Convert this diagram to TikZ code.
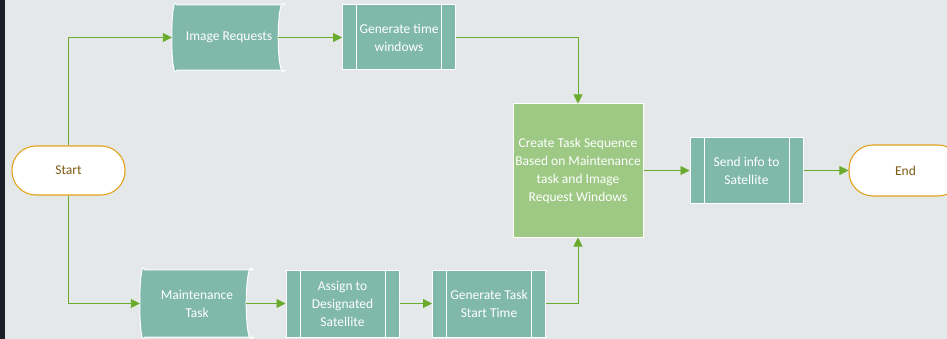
\documentclass[tikz,border=0pt]{standalone}
\usepackage{fontspec}
\setmainfont{Carlito}
\usetikzlibrary{arrows.meta}
\definecolor{bgc}{HTML}{E4E8E8}
\definecolor{tealc}{HTML}{80B9AA}
\definecolor{lgreen}{HTML}{9DC984}
\definecolor{arrowg}{HTML}{6AAB2E}
\definecolor{orng}{HTML}{E2A31C}
\definecolor{brownc}{HTML}{7D5A12}
\definecolor{darkc}{HTML}{1B2028}
\newcommand{\storeddata}[1]{%
  \filldraw[fill=tealc, draw=white, line width=1pt]
    ([xshift=5pt]#1.north west)
      .. controls ([xshift=-1.7pt,yshift=16pt]#1.north west) and ([xshift=-1.7pt,yshift=-16pt]#1.south west) ..
    ([xshift=5pt]#1.south west) -- (#1.south east)
      .. controls ([xshift=-9.3pt,yshift=-16pt]#1.south east) and ([xshift=-9.3pt,yshift=16pt]#1.north east) ..
    (#1.north east) -- cycle;}
\newcommand{\predef}[1]{%
  \draw[white, line width=1pt] ([xshift=14.5pt]#1.north west) -- ([xshift=14.5pt]#1.south west)
    ([xshift=-14.5pt]#1.north east) -- ([xshift=-14.5pt]#1.south east);}
\begin{document}
\begin{tikzpicture}[x=1pt,y=-1pt,
  conn/.style={draw=arrowg, line width=0.9pt, -{Triangle[length=9pt,width=9pt]}},
  txt/.style={text=white, font=\fontsize{13.5}{18}\selectfont, align=center, inner sep=0pt},
  term/.style={draw=orng, line width=1.1pt, fill=white, rounded corners=24pt,
    text=brownc, font=\fontsize{13.5}{18}\selectfont, minimum width=113pt},
  procbox/.style={draw=white, line width=1pt, fill=tealc, txt, minimum width=113pt, minimum height=65pt},
  databox/.style={txt, minimum width=113pt, minimum height=65pt},
  bigbox/.style={draw=white, line width=1pt, fill=lgreen, txt, minimum width=130pt, minimum height=133pt}]
\useasboundingbox (0,0) rectangle (947,339);
\fill[bgc] (0,0) rectangle (947,339);
\fill[darkc] (0,0) rectangle (5,339);

\node[term, minimum height=49pt] (start) at (68.5,170.5) {Start};
\node[term, minimum height=51pt] (end) at (905.5,170.5) {End};

\node[databox] (ir) at (228.5,37.5) {};
\storeddata{ir}
\node[txt] (irt) at (229,37.5) {Image Requests};

\node[procbox] (gtw) at (399,37.5) {Generate time\\windows};
\predef{gtw}

\node[databox, minimum height=67pt] (mt) at (196.5,303.5) {};
\storeddata{mt}
\node[txt] (mtt) at (197,303.5) {Maintenance\\Task};

\node[procbox, minimum height=67pt] (as) at (342.5,303.5) {Assign to\\Designated\\Satellite};
\predef{as}

\node[procbox, minimum height=67pt] (gts) at (489,303.5) {Generate Task\\Start Time};
\predef{gts}

\node[bigbox] (cts) at (578,170.5) {Create Task Sequence\\Based on Maintenance\\task and Image\\Request Windows};

\node[procbox] (send) at (746.5,170.5) {Send info to\\Satellite};
\predef{send}

\draw[conn] (start.north) |- (ir.west);
\draw[conn] ([xshift=-7pt]ir.east) -- (gtw.west);
\draw[conn] (gtw.east) -| (cts.north);
\draw[conn] (start.south) |- (mt.west);
\draw[conn] ([xshift=-7pt]mt.east) -- (as.west);
\draw[conn] (as.east) -- (gts.west);
\draw[conn] (gts.east) -| (cts.south);
\draw[conn] (cts.east) -- (send.west);
\draw[conn] (send.east) -- (end.west);
\end{tikzpicture}
\end{document}
